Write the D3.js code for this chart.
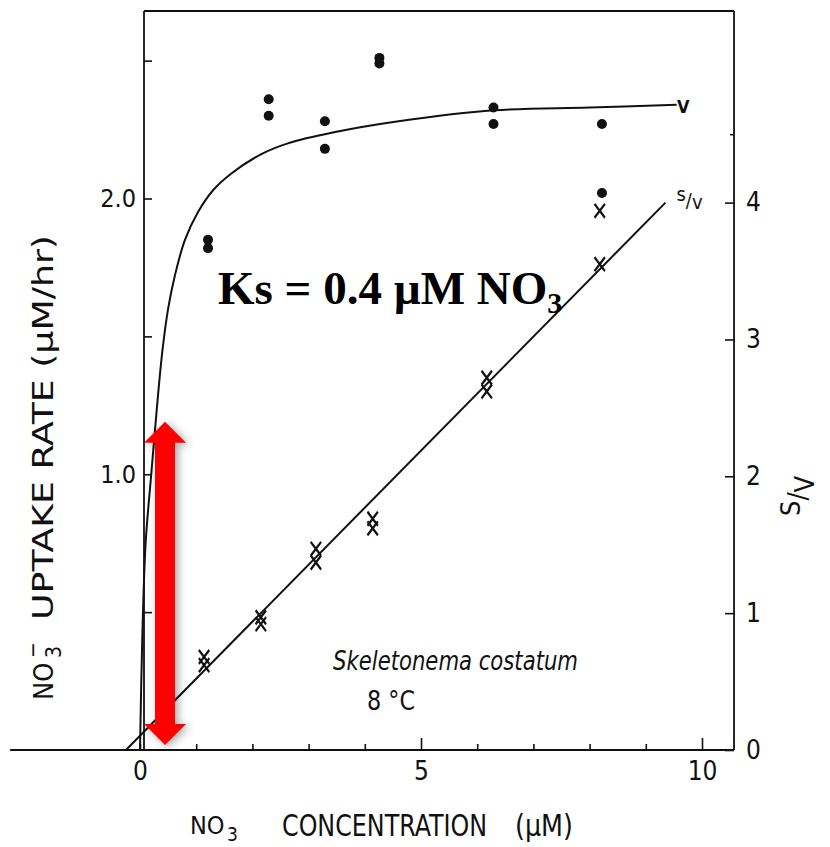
<!DOCTYPE html>
<html><head><meta charset="utf-8">
<script src="https://cdn.jsdelivr.net/npm/d3@7"></script>
<style>body{margin:0;background:#fff}svg{display:block}</style>
</head><body><svg id="c" width="830" height="847"></svg>
<script>
// ---- data ----
const uptakeS = [1.21,1.21,2.29,2.29,3.29,3.29,4.26,4.26,6.29,6.29,8.22,8.22];
const uptakeV = [1.85,1.82,2.36,2.30,2.28,2.18,2.51,2.49,2.33,2.27,2.27,2.02];
const svS = [1.14,1.14,2.15,2.15,3.13,3.13,4.14,4.14,6.17,6.17,8.18,8.18];
const svV = [0.62,0.68,0.92,0.97,1.37,1.47,1.62,1.69,2.62,2.72,3.55,3.94];
const curveS = [0,0.04,0.1,0.2,0.3,0.4,0.5,0.62,0.8,1.03,1.3,1.62,2.15,2.63,3.45,4.6,6.3,8.0,9.55];
const curveV = [0,0.4,0.75,1.0,1.24,1.45,1.6,1.72,1.85,1.95,2.03,2.09,2.16,2.2,2.24,2.28,2.32,2.33,2.34];
const fitS = [-0.25, 9.35];
const fitSV = [0, 4.0];
const xTicks = [0,1,2,3,4,5,6,7,8,9,10];
const xLabels = [0,5,10];
const leftTicks = [0.5,1.0,1.5,2.0,2.5];
const leftLabels = [1.0,2.0];
const rightTicks = [0,1,2,3,4,4.5];
const rightLabels = [0,1,2,3,4];
const arrowS = 0.445, arrowV = [0.018, 1.19];

const svg = d3.select('#c');
const ink = '#111';
const scanFont = '"DejaVu Sans Condensed","Liberation Sans Narrow","DejaVu Sans",sans-serif';

const x = d3.scaleLinear([0,10],[140,702]);
const yL = d3.scaleLinear([0,2.68],[750,11]);
const yR = d3.scaleLinear([0,5.4],[750,11]);
const xLeftEnd = -2.31, xRightEnd = 10.57;

const defs = svg.append('defs');
const f = defs.append('filter').attr('id','sh').attr('x','-50%').attr('y','-20%').attr('width','200%').attr('height','140%');
f.append('feDropShadow').attr('dx',3).attr('dy',2).attr('stdDeviation',4).attr('flood-color','#000').attr('flood-opacity',0.35);

// frame
const g = svg.append('g').attr('stroke',ink).attr('stroke-width',1.8).attr('fill','none');
g.append('line').attr('x1',x(xLeftEnd)).attr('x2',x(xRightEnd)).attr('y1',yL(0)).attr('y2',yL(0));
g.append('line').attr('x1',x(0)+4).attr('x2',x(xRightEnd)).attr('y1',yL(2.68)).attr('y2',yL(2.68));
g.append('line').attr('x1',x(0)+4).attr('x2',x(0)+4).attr('y1',yL(0)).attr('y2',yL(2.68));
g.append('line').attr('x1',x(xRightEnd)).attr('x2',x(xRightEnd)).attr('y1',yL(0)).attr('y2',yL(2.68));

// left axis
const la = d3.axisLeft(yL).tickValues(leftTicks).tickSizeInner(-8).tickSizeOuter(0).tickPadding(8)
  .tickFormat(d => leftLabels.includes(d) ? d3.format('.1f')(d) : '');
const lg = svg.append('g').attr('transform',`translate(${x(0)+4},0)`).call(la);
lg.select('.domain').remove();
lg.selectAll('line').attr('stroke',ink).attr('stroke-width',1.6);
lg.selectAll('text').attr('font-family',scanFont).attr('font-size',25).attr('fill',ink);

// bottom axis
const ba = d3.axisBottom(x).tickValues(xTicks).tickSizeInner(-6).tickSizeOuter(0).tickPadding(12)
  .tickFormat(d => xLabels.includes(d) ? d : '');
const bg = svg.append('g').attr('transform',`translate(0,${yL(0)})`).call(ba);
bg.select('.domain').remove();
bg.selectAll('line').attr('stroke',ink).attr('stroke-width',1.6).attr('y2',d => d%5===0 && d>0 ? -12 : -6);
bg.selectAll('text').attr('font-family',scanFont).attr('font-size',26).attr('fill',ink);

// right axis
const ra = d3.axisRight(yR).tickValues(rightTicks).tickSizeInner(-9).tickSizeOuter(0).tickPadding(12)
  .tickFormat(d => rightLabels.includes(d) ? d : '');
const rg = svg.append('g').attr('transform',`translate(${x(xRightEnd)},0)`).call(ra);
rg.select('.domain').remove();
rg.selectAll('line').attr('stroke',ink).attr('stroke-width',1.6).attr('x2',d => d===4.5 ? -4 : -9);
rg.selectAll('text').attr('font-family',scanFont).attr('font-size',26).attr('fill',ink);

// V curve
const curve = d3.line().x(d=>x(d[0])).y(d=>yL(d[1])).curve(d3.curveCatmullRom.alpha(0.5));
svg.append('path').datum(d3.zip(curveS,curveV)).attr('d',curve)
  .attr('fill','none').attr('stroke',ink).attr('stroke-width',2);

// S/V fit line
const fit = d3.line().x(d=>x(d[0])).y(d=>yR(d[1]));
svg.append('path').datum(d3.zip(fitS,fitSV)).attr('d',fit)
  .attr('fill','none').attr('stroke',ink).attr('stroke-width',2);

// V dots
svg.append('g').selectAll('circle').data(d3.zip(uptakeS,uptakeV)).join('circle')
  .attr('cx',d=>x(d[0])).attr('cy',d=>yL(d[1])).attr('r',5).attr('fill',ink);

// S/V crosses
const sym = d3.symbol(d3.symbolX, 90);
svg.append('g').selectAll('path').data(d3.zip(svS,svV)).join('path')
  .attr('transform',d=>`translate(${x(d[0])},${yR(d[1])}) scale(0.9,1.2)`)
  .attr('d',sym).attr('fill','none').attr('stroke',ink).attr('stroke-width',2.2);

// in-plot labels
svg.append('text').attr('x',x(9.5)+3).attr('y',yL(2.34)+8).text('V')
  .attr('font-family',scanFont).attr('font-weight','bold').attr('font-size',18).attr('fill',ink);
const svl = svg.append('text').attr('x',x(9.35)+11).attr('y',yR(4.0)-2)
  .attr('font-family',scanFont).attr('font-size',20).attr('fill',ink);
svl.append('tspan').text('s');
svl.append('tspan').text('/').attr('dy',6);
svl.append('tspan').text('v').attr('dy',2);

svg.append('text').attr('x',333).attr('y',670).text('Skeletonema  costatum')
  .attr('font-family',scanFont).attr('font-style','italic').attr('font-size',26).attr('fill',ink)
  .attr('textLength',245).attr('lengthAdjust','spacingAndGlyphs');
svg.append('text').attr('x',367).attr('y',710).text('8 °C')
  .attr('font-family',scanFont).attr('font-size',26).attr('fill',ink)
  .attr('textLength',48).attr('lengthAdjust','spacingAndGlyphs');

// axis titles
const xt = svg.append('text').attr('y',834).attr('font-family',scanFont).attr('font-size',30).attr('fill',ink);
xt.append('tspan').attr('x',190).text('NO').attr('font-size',25);
xt.append('tspan').attr('x',227).attr('dy',7).text('3').attr('font-size',19);
xt.append('tspan').attr('x',282).attr('dy',-5).text('CONCENTRATION').attr('textLength',205).attr('lengthAdjust','spacingAndGlyphs');
xt.append('tspan').attr('x',515).text('(µM)').attr('textLength',58).attr('lengthAdjust','spacingAndGlyphs');

const yt = svg.append('text').attr('transform','translate(53,700) rotate(-90)')
  .attr('font-family',scanFont).attr('font-size',29).attr('fill',ink);
yt.append('tspan').attr('x',0).text('NO').attr('font-size',27);
yt.append('tspan').attr('x',42).attr('dy',8).text('3').attr('font-size',21);
yt.append('tspan').attr('x',42).attr('dy',-21).text('−').attr('font-size',21);
yt.append('tspan').attr('x',80).attr('dy',13).text('UPTAKE  RATE  (µM/hr)')
  .attr('textLength',385).attr('lengthAdjust','spacingAndGlyphs');

const rt = svg.append('text').attr('transform','translate(800,516) rotate(-90)')
  .attr('font-family',scanFont).attr('font-size',27).attr('fill',ink);
rt.append('tspan').text('S');
rt.append('tspan').text('/').attr('dy',7);
rt.append('tspan').text('V').attr('dy',7);

// Ks annotation
const ks = svg.append('text').attr('x',218).attr('y',304)
  .attr('font-family','"Liberation Serif","Times New Roman",serif').attr('font-weight','bold')
  .attr('font-size',47).attr('fill','#000');
ks.append('tspan').text('Ks = 0.4 µM NO');
ks.append('tspan').text('3').attr('font-size',30).attr('dy',9);

// red double arrow
const ax = x(arrowS), yTop = yL(arrowV[1]), yBot = yL(arrowV[0]);
const sw = 10, hw = 21, hl = 21;
const arrowPath = d3.path();
arrowPath.moveTo(ax, yTop);
arrowPath.lineTo(ax+hw, yTop+hl);
arrowPath.lineTo(ax+sw, yTop+hl);
arrowPath.lineTo(ax+sw, yBot-hl);
arrowPath.lineTo(ax+hw, yBot-hl);
arrowPath.lineTo(ax, yBot);
arrowPath.lineTo(ax-hw, yBot-hl);
arrowPath.lineTo(ax-sw, yBot-hl);
arrowPath.lineTo(ax-sw, yTop+hl);
arrowPath.lineTo(ax-hw, yTop+hl);
arrowPath.closePath();
svg.append('path').attr('d',arrowPath.toString()).attr('fill','#ff0000').attr('filter','url(#sh)');
</script></body></html>
